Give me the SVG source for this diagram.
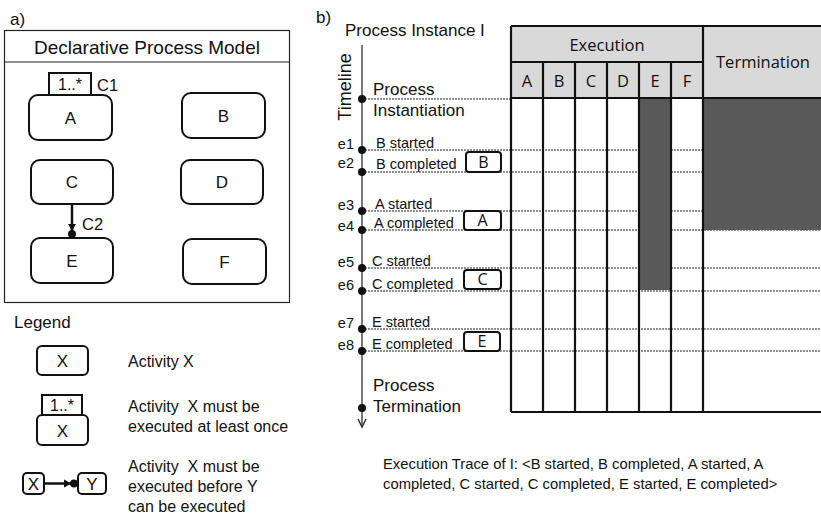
<svg xmlns="http://www.w3.org/2000/svg" width="821" height="520" viewBox="0 0 821 520">
<defs>
<style>
text{font-family:"Liberation Sans",Arial,sans-serif;fill:#111}
.node{fill:#fff;stroke:#111;stroke-width:2}
.lbl{font-size:17px;text-anchor:middle}
.mult{fill:#fff;stroke:#111;stroke-width:2}
.ev{font-size:14.5px}
.en{font-size:14.5px;text-anchor:end}
.dot{fill:#111}
.dash{stroke:#222;stroke-width:1.2;stroke-dasharray:2 1;fill:none}
.tl{stroke:#111;stroke-width:2.2;fill:none}
.hd{font-family:"Open Sans","Liberation Sans",sans-serif;font-size:16.5px;text-anchor:middle}
.sbox{fill:#fff;stroke:#111;stroke-width:2}
.sl{font-family:"Open Sans","Liberation Sans",sans-serif;font-size:16px;text-anchor:middle}
.leg{font-size:16px}
</style>
<marker id="prec" markerUnits="userSpaceOnUse" markerWidth="14" markerHeight="10" viewBox="0 0 14 10" refX="14" refY="5" orient="auto">
<path d="M0,1 L7.5,5 L0,9 Z" fill="#111"/>
<circle cx="10" cy="5" r="4" fill="#111"/>
</marker>
<marker id="open" markerUnits="userSpaceOnUse" markerWidth="12" markerHeight="12" viewBox="0 0 12 12" refX="10" refY="6" orient="auto">
<path d="M2,2 L10,6 L2,10" fill="none" stroke="#333" stroke-width="1.5"/>
</marker>
</defs>
<rect width="821" height="520" fill="#fff"/>

<!-- Panel a -->
<text x="10" y="25" font-size="17">a)</text>
<g id="model">
<rect x="4.5" y="30.5" width="285" height="272" fill="none" stroke="#222" stroke-width="1.2"/>
<line x1="4.5" y1="62" x2="289.5" y2="62" stroke="#222" stroke-width="1.2"/>
<text x="147" y="54" font-size="19" text-anchor="middle">Declarative Process Model</text>
</g>
<g id="nodeA">
<rect class="mult" x="49" y="73" width="42" height="22"/>
<text x="70" y="90" font-size="16" text-anchor="middle">1..*</text>
<text x="97" y="91" font-size="16.5">C1</text>
<rect class="node" x="29" y="95" width="83" height="45" rx="9"/>
<text class="lbl" x="70.5" y="124">A</text>
</g>
<g id="nodeB"><rect class="node" x="182" y="93" width="83" height="45" rx="9"/><text class="lbl" x="223.5" y="122">B</text></g>
<g id="nodeC"><rect class="node" x="31" y="160" width="82" height="44" rx="9"/><text class="lbl" x="72" y="188">C</text></g>
<g id="nodeD"><rect class="node" x="181" y="160" width="82" height="44" rx="9"/><text class="lbl" x="222" y="188">D</text></g>
<g id="nodeE"><rect class="node" x="31" y="238" width="82" height="45" rx="9"/><text class="lbl" x="72" y="267">E</text></g>
<g id="nodeF"><rect class="node" x="183" y="239" width="83" height="45" rx="9"/><text class="lbl" x="224.5" y="268">F</text></g>
<g id="connectors">
<line x1="72" y1="204" x2="72" y2="238" stroke="#111" stroke-width="2.5" marker-end="url(#prec)"/>
<text x="82" y="230" font-size="16.5">C2</text>
</g>

<!-- Legend -->
<g id="legend">
<text x="14" y="328" font-size="17">Legend</text>
<rect class="node" x="37" y="346" width="51" height="29" rx="5"/>
<text class="lbl" x="62.5" y="367">X</text>
<text class="leg" x="128" y="367">Activity X</text>
<rect class="mult" x="42" y="395" width="40" height="20"/>
<text x="62" y="411" font-size="16" text-anchor="middle">1..*</text>
<rect class="node" x="37" y="415" width="51" height="30" rx="5"/>
<text class="lbl" x="62.5" y="437">X</text>
<text class="leg" x="128" y="412">Activity&#160; X must be</text>
<text class="leg" x="128" y="432">executed at least once</text>
<rect class="node" x="23" y="473" width="21" height="21" rx="4"/>
<text class="lbl" x="33.5" y="490">X</text>
<rect class="node" x="78" y="473" width="28" height="21" rx="4"/>
<text class="lbl" x="92" y="490">Y</text>
<line x1="44" y1="483.5" x2="78" y2="483.5" stroke="#111" stroke-width="2.5" marker-end="url(#prec)"/>
<text class="leg" x="128" y="472">Activity&#160; X must be</text>
<text class="leg" x="128" y="492">executed before Y</text>
<text class="leg" x="128" y="512">can be executed</text>
</g>

<!-- Panel b -->
<text x="316" y="23" font-size="17">b)</text>
<text x="345" y="36" font-size="17">Process Instance I</text>

<g id="table">
<rect x="511" y="26" width="310" height="72" fill="#d9d9d9"/>
<rect x="511" y="98" width="310" height="314" fill="#fff"/>
</g>

<g id="eventlines">
<line class="dash" x1="362" y1="99" x2="511" y2="99"/>
<line class="dash" x1="362" y1="150" x2="821" y2="150"/>
<line class="dash" x1="362" y1="172" x2="821" y2="172"/>
<line class="dash" x1="362" y1="211" x2="821" y2="211"/>
<line class="dash" x1="362" y1="230" x2="821" y2="230"/>
<line class="dash" x1="362" y1="268" x2="821" y2="268"/>
<line class="dash" x1="362" y1="291" x2="821" y2="291"/>
<line class="dash" x1="362" y1="329" x2="821" y2="329"/>
<line class="dash" x1="362" y1="351" x2="821" y2="351"/>
</g>

<g id="fills">
<rect x="639" y="98" width="32" height="192" fill="#595959"/>
<rect x="703" y="98" width="118" height="132" fill="#595959"/>
</g>

<g id="tablelines">
<path class="tl" d="M511,26 H821 M511,62 H703 M511,98 H821 M511,412 H821 M511,26 V412 M543,62 V412 M575,62 V412 M607,62 V412 M639,62 V412 M671,62 V412 M703,26 V412"/>
<text class="hd" x="607" y="51">Execution</text>
<text class="hd" x="763" y="68">Termination</text>
<text class="hd" x="527" y="87">A</text>
<text class="hd" x="559" y="87">B</text>
<text class="hd" x="591" y="87">C</text>
<text class="hd" x="623" y="87">D</text>
<text class="hd" x="655" y="87">E</text>
<text class="hd" x="687" y="87">F</text>
</g>

<g id="timeline">
<line x1="362" y1="45" x2="362" y2="427" stroke="#777" stroke-width="2" marker-end="url(#open)"/>
<text x="0" y="0" font-size="18" text-anchor="middle" transform="translate(351,87) rotate(-90)">Timeline</text>
<circle class="dot" cx="362" cy="99" r="4"/>
<circle class="dot" cx="362" cy="150" r="4"/>
<circle class="dot" cx="362" cy="172" r="4"/>
<circle class="dot" cx="362" cy="211" r="4"/>
<circle class="dot" cx="362" cy="230" r="4"/>
<circle class="dot" cx="362" cy="268" r="4"/>
<circle class="dot" cx="362" cy="291" r="4"/>
<circle class="dot" cx="362" cy="329" r="4"/>
<circle class="dot" cx="362" cy="351" r="4"/>
<circle class="dot" cx="362" cy="408" r="4"/>
<text x="373" y="95" font-size="17">Process</text>
<text x="373" y="116" font-size="17">Instantiation</text>
<text x="373" y="391" font-size="17">Process</text>
<text x="373" y="412" font-size="17">Termination</text>
</g>

<g id="events">
<text class="en" x="354" y="149">e1</text>
<text class="ev" x="376" y="148">B started</text>
<text class="en" x="354" y="168">e2</text>
<text class="ev" x="376" y="169">B completed</text>
<text class="en" x="354" y="210">e3</text>
<text class="ev" x="375" y="209">A started</text>
<text class="en" x="354" y="231">e4</text>
<text class="ev" x="374" y="228">A completed</text>
<text class="en" x="354" y="267">e5</text>
<text class="ev" x="372" y="266">C started</text>
<text class="en" x="354" y="290">e6</text>
<text class="ev" x="372" y="289">C completed</text>
<text class="en" x="354" y="328">e7</text>
<text class="ev" x="372" y="327">E started</text>
<text class="en" x="354" y="350">e8</text>
<text class="ev" x="372" y="349">E completed</text>
</g>

<g id="boxB"><rect class="sbox" x="466" y="152" width="35" height="20" rx="3"/><text class="sl" x="483.5" y="168">B</text></g>
<g id="boxA"><rect class="sbox" x="464" y="211" width="37" height="19" rx="3"/><text class="sl" x="482.5" y="226">A</text></g>
<g id="boxC"><rect class="sbox" x="464" y="270" width="37" height="19" rx="3"/><text class="sl" x="482.5" y="285">C</text></g>
<g id="boxE"><rect class="sbox" x="464" y="332" width="36" height="19" rx="3"/><text class="sl" x="482" y="347">E</text></g>

<text x="383" y="469" font-size="14.8">Execution Trace of I: &lt;B started, B completed, A started, A</text>
<text x="383" y="489" font-size="14.8">completed, C started, C completed, E started, E completed&gt;</text>
</svg>
